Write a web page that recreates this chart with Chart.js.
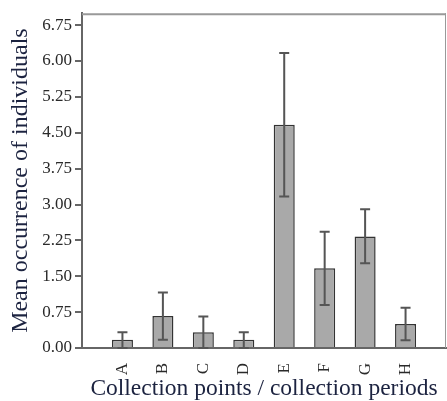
<!DOCTYPE html>
<html>
<head>
<meta charset="utf-8">
<script src="https://cdn.jsdelivr.net/npm/chart.js@4/dist/chart.umd.min.js"></script>
<style>
  html, body { margin: 0; padding: 0; background: #fff; }
  #wrap { width: 447px; height: 401px; }
</style>
</head>
<body>
<div id="wrap"><canvas id="barChart" width="447" height="401"></canvas></div>
<script>
// data
const categories = ['A', 'B', 'C', 'D', 'E', 'F', 'G', 'H'];
const positions = [1, 2, 3, 4, 5, 6, 7, 8];
const means = [0.17, 0.67, 0.33, 0.17, 4.67, 1.67, 2.33, 0.5];
const lowerErr = [0.0, 0.17, 0.0, 0.0, 3.17, 0.9, 1.77, 0.16];
const upperErr = [0.33, 1.16, 0.66, 0.33, 6.17, 2.43, 2.9, 0.84];
const yTicks = [0, 0.75, 1.5, 2.25, 3, 3.75, 4.5, 5.25, 6, 6.75];

const axisColor = '#666';
const textColor = '#2a2a2a';
const titleColor = '#1c2340';
const serif = '"Liberation Serif", "Times New Roman", serif';

// error bars on top of the bars
const errorBars = {
  id: 'errorBars',
  afterDatasetsDraw(chart) {
    const ctx = chart.ctx;
    const xs = chart.scales.x, ys = chart.scales.y;
    ctx.save();
    ctx.strokeStyle = '#555';
    ctx.lineWidth = 2;
    positions.forEach((p, i) => {
      const x = xs.getPixelForValue(p);
      const yl = ys.getPixelForValue(lowerErr[i]);
      const yu = ys.getPixelForValue(upperErr[i]);
      ctx.beginPath();
      ctx.moveTo(x, yl); ctx.lineTo(x, yu);
      ctx.moveTo(x - 5, yu); ctx.lineTo(x + 5, yu);
      ctx.moveTo(x - 5, yl); ctx.lineTo(x + 5, yl);
      ctx.stroke();
    });
    ctx.restore();
  }
};

// top and right side of the frame
const frame = {
  id: 'frame',
  afterDraw(chart) {
    const { ctx, chartArea: a } = chart;
    ctx.save();
    ctx.strokeStyle = '#999';
    ctx.lineWidth = 2;
    ctx.beginPath();
    ctx.moveTo(a.left, a.top + 1); ctx.lineTo(a.right, a.top + 1);
    ctx.stroke();
    ctx.lineWidth = 1;
    ctx.beginPath();
    ctx.moveTo(a.right - 0.5, a.top); ctx.lineTo(a.right - 0.5, a.bottom);
    ctx.stroke();
    ctx.restore();
  }
};

new Chart(document.getElementById('barChart'), {
  type: 'bar',
  data: {
    datasets: [{
      data: positions.map((p, i) => ({ x: p, y: means[i] })),
      backgroundColor: '#a9a9a9',
      borderColor: '#333',
      borderWidth: 1.5,
      categoryPercentage: 1,
      barPercentage: 0.52
    }]
  },
  options: {
    responsive: false,
    animation: false,
    layout: { padding: { top: 9, right: 1, left: 0, bottom: 0 } },
    plugins: { legend: { display: false }, tooltip: { enabled: false } },
    scales: {
      x: {
        type: 'linear',
        min: 0,
        max: 9,
        offset: false,
        afterBuildTicks: s => { s.ticks = positions.map(v => ({ value: v })); },
        afterFit: s => { s.height = 53; },
        ticks: {
          autoSkip: false,
          minRotation: 90,
          maxRotation: 90,
          padding: 7,
          color: textColor,
          font: { family: serif, size: 17 },
          callback: v => categories[v - 1]
        },
        grid: { display: false, offset: false },
        border: { display: true, color: axisColor, width: 2 },
        title: {
          display: true,
          text: 'Collection points / collection periods',
          color: titleColor,
          font: { family: serif, size: 23.5, lineHeight: 1 },
          padding: { top: 0, bottom: 0 }
        }
      },
      y: {
        min: 0,
        max: 7,
        afterBuildTicks: s => { s.ticks = yTicks.map(v => ({ value: v })); },
        afterFit: s => { s.width = 82; },
        ticks: {
          padding: 3,
          color: textColor,
          font: { family: serif, size: 17 },
          callback: v => v.toFixed(2)
        },
        grid: { display: true, drawOnChartArea: false, drawTicks: true, tickLength: 7, color: axisColor, lineWidth: 2 },
        border: { display: true, color: axisColor, width: 2 },
        title: {
          display: true,
          text: 'Mean occurrence of individuals',
          color: titleColor,
          font: { family: serif, size: 24, lineHeight: 1.2 },
          padding: { top: 6, bottom: 0 }
        }
      }
    }
  },
  plugins: [errorBars, frame]
});
</script>
</body>
</html>
